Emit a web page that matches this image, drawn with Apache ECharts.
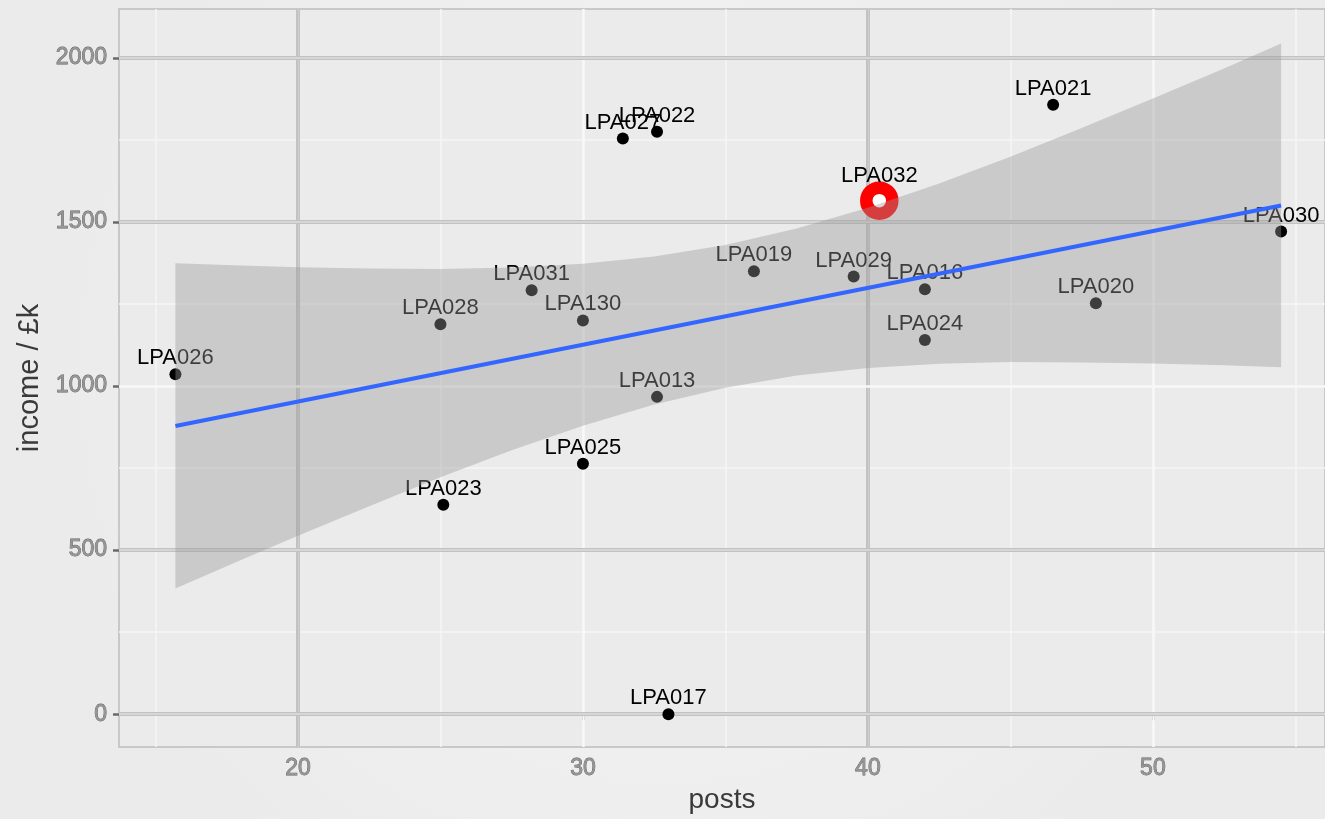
<!DOCTYPE html>
<html>
<head>
<meta charset="utf-8">
<title>income vs posts</title>
<script src="https://cdn.jsdelivr.net/npm/echarts@6/dist/echarts.min.js"></script>
<style>
  html, body { margin: 0; padding: 0; overflow: hidden; }
  #chart { width: 1325px; height: 819px; }
</style>
</head>
<body>
<div id="chart"></div>
<script>
// Authorities: number of posts against income (£k)
const names  = ['LPA026','LPA028','LPA023','LPA031','LPA130','LPA025','LPA027','LPA022','LPA013',
                'LPA017','LPA019','LPA029','LPA032','LPA016','LPA024','LPA021','LPA020','LPA030'];
const posts  = [15.7, 25, 25.1, 28.2, 30, 30, 31.4, 32.6, 32.6, 33, 36, 39.5, 40.4, 42, 42, 46.5, 48, 54.5];
const income = [1036, 1188, 638, 1292, 1200, 763, 1754, 1775, 967, 0, 1350, 1334, 1565, 1295, 1140, 1857, 1252, 1471];
const highlighted = 'LPA032';

// Linear fit and its confidence band
const fitX   = [15.7, 54.5];
const fitY   = [878, 1550];
const bandX  = [15.7, 18, 20, 22.5, 25, 27.5, 30, 32.5, 35, 37.5, 40, 42.5, 45, 47.5, 50, 52.5, 54.5];
const bandLo = [383, 470, 544, 634, 722, 804, 879, 944, 995, 1032, 1055, 1068, 1073, 1072, 1069, 1063, 1057];
const bandHi = [1374, 1367, 1362, 1358, 1357, 1361, 1373, 1395, 1430, 1480, 1543, 1617, 1699, 1786, 1876, 1968, 2044];

// Axis breaks
const xTicks  = [20, 30, 40, 50];
const yTicks  = [0, 500, 1000, 1500, 2000];
const xMinor  = [15, 25, 35, 45, 55];
const yMinor  = [250, 750, 1250, 1750];
const xDarkBreaks = [20, 40];
const yDarkBreaks = [0, 500, 1500, 2000];

const FONT = '"Liberation Sans", Arial, sans-serif';

// grid lines as mark lines so every break can be styled on its own
function gridLines() {
  const out = [];
  const white = { color: '#f6f6f6', width: 1.5, type: 'solid' };
  xMinor.forEach(v => out.push({ xAxis: v, lineStyle: white }));
  yMinor.forEach(v => out.push({ yAxis: v, lineStyle: white }));
  xTicks.forEach(v => {
    if (xDarkBreaks.includes(v)) {
      out.push({ xAxis: v, lineStyle: { color: '#c2c2c2', width: 4, type: 'solid' } });
      out.push({ xAxis: v, lineStyle: { color: '#cdcdcd', width: 1.2, type: 'solid' } });
    } else {
      out.push({ xAxis: v, lineStyle: { color: '#f8f8f8', width: 2.5, type: 'solid' } });
    }
  });
  yTicks.forEach(v => {
    if (yDarkBreaks.includes(v)) {
      out.push({ yAxis: v, lineStyle: { color: '#c2c2c2', width: 4, type: 'solid' } });
      out.push({ yAxis: v, lineStyle: { color: '#dddddd', width: 1.5, type: 'solid' } });
    } else {
      out.push({ yAxis: v, lineStyle: { color: '#f8f8f8', width: 2.5, type: 'solid' } });
    }
  });
  return out;
}

const points = names.map((n, i) => {
  const item = { name: n, value: [posts[i], income[i]] };
  if (n === highlighted) {
    item.symbolSize = 26;
    item.itemStyle = { color: '#ffffff', borderColor: '#ff0000', borderWidth: 12.5 };
    item.label = { distance: -6 };
  }
  return item;
});

const tickLabel = {
  color: '#959595',
  textBorderColor: '#606060',
  textBorderWidth: 0.8,
  fontFamily: FONT,
  fontSize: 23,
  formatter: v => String(v)
};

const chart = echarts.init(document.getElementById('chart'), null, { renderer: 'canvas' });
chart.setOption({
  animation: false,
  backgroundColor: {
    type: 'radial', x: 0.5, y: 0.45, r: 0.75,
    colorStops: [{ offset: 0, color: '#f6f6f6' }, { offset: 1, color: '#ebebeb' }]
  },
  grid: {
    left: 119, right: 0, top: 9, bottom: 70,
    show: true, backgroundColor: '#ebebeb', borderColor: '#bdbdbd', borderWidth: 1.5
  },
  xAxis: {
    type: 'value', min: 13.72, max: 56.04,
    name: 'posts', nameLocation: 'middle', nameGap: 39,
    nameTextStyle: { color: '#3a3a3a', fontFamily: FONT, fontSize: 28 },
    axisLine: { show: false },
    axisTick: { show: true, customValues: xTicks, length: 6, lineStyle: { color: '#6a6a6a', width: 2.5 } },
    axisLabel: Object.assign({ customValues: xTicks, margin: 10 }, tickLabel),
    splitLine: { show: false }
  },
  yAxis: {
    type: 'value', min: -100, max: 2149,
    name: 'income / £k', nameLocation: 'middle', nameGap: 62, nameRotate: 90,
    nameTextStyle: { color: '#3a3a3a', fontFamily: FONT, fontSize: 29 },
    axisLine: { show: false },
    axisTick: { show: true, customValues: yTicks, length: 6, lineStyle: { color: '#6a6a6a', width: 2.5 } },
    axisLabel: Object.assign({ customValues: yTicks, margin: 12 }, tickLabel),
    splitLine: { show: false }
  },
  series: [
    {
      // panel grid
      type: 'scatter', data: [], z: 1, silent: true,
      markLine: { z: 1, silent: true, symbol: ['none', 'none'], label: { show: false }, animation: false, data: gridLines() }
    },
    {
      type: 'scatter', z: 2, data: points,
      symbol: 'circle', symbolSize: 12,
      itemStyle: { color: '#000000', opacity: 1 },
      label: {
        show: true, position: 'top', distance: -1,
        formatter: p => p.name,
        color: '#000000', fontFamily: FONT, fontSize: 22, lineHeight: 22
      }
    },
    {
      // confidence band, drawn over the points as in the original plot
      type: 'custom', z: 3, silent: true,
      data: [[bandX[0], bandLo[0]]],
      renderItem: function (params, api) {
        const upper = bandX.map((x, i) => api.coord([x, bandHi[i]]));
        const lower = bandX.map((x, i) => api.coord([x, bandLo[i]])).reverse();
        return {
          type: 'polygon',
          shape: { points: upper.concat(lower) },
          style: { fill: 'rgba(153,153,153,0.4)' }
        };
      }
    },
    {
      type: 'line', z: 4, silent: true,
      data: fitX.map((x, i) => [x, fitY[i]]),
      symbol: 'none',
      lineStyle: { color: '#3366ff', width: 4 }
    }
  ]
});
</script>
</body>
</html>
